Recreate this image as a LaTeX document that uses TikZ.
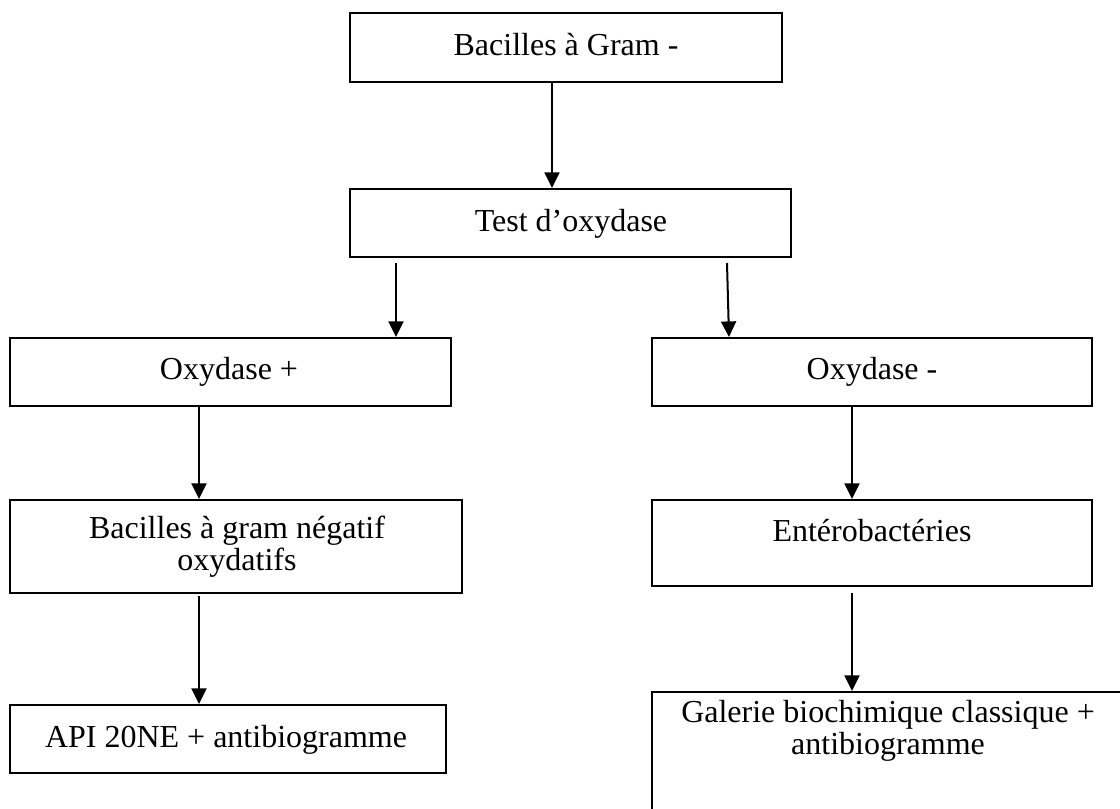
\documentclass[tikz,border=0pt]{standalone}
\usepackage{fontspec}
\setmainfont{Liberation Serif}
\usetikzlibrary{arrows.meta}

\tikzset{
  box/.style={draw, line width=1pt, inner sep=0pt, rectangle},
  lbl/.style={inner sep=0pt, align=center, font=\fontsize{16pt}{15.6pt}\selectfont},
  arr/.style={line width=1pt, -{Triangle[width=7.5pt,length=7.8pt]}},
}

% box from left/top/right/bottom in pixel units
\newcommand\flowbox[5]{%
  \node[box, minimum width={(#4-#2)*0.5pt}, minimum height={(#5-#3)*0.5pt}]
    (#1) at ({(#2+#4)/2},{(#3+#5)/2}) {};}

\begin{document}
\begin{tikzpicture}[x=0.5pt, y=-0.5pt]
  \useasboundingbox (0,0) rectangle (1120,809);
  \clip (0,0) rectangle (1120,809);

  % boxes
  \flowbox{gram}{350}{13}{782}{82}
  \flowbox{test}{350}{189}{791}{257}
  \flowbox{oxp}{10}{338}{451}{406}
  \flowbox{oxm}{652}{338}{1092}{406}
  \flowbox{bgn}{10}{500}{462}{593}
  \flowbox{ent}{652}{500}{1092}{586}
  \flowbox{api}{10}{705}{446}{773}
  \flowbox{gal}{652}{692}{1125}{860}

  % labels (multi-line labels are anchored on their last baseline)
  \node[lbl, anchor=base] (tgram) at (566,55) {Bacilles à Gram -};
  \node[lbl, anchor=base] (ttest) at (571,231) {Test d’oxydase};
  \node[lbl, anchor=base] (toxp) at (229,379) {Oxydase +};
  \node[lbl, anchor=base] (toxm) at (872,379) {Oxydase -};
  \node[lbl, anchor=base] (tbgn) at (237,570) {Bacilles à gram négatif\\oxydatifs};
  \node[lbl, anchor=base] (tent) at (872,541) {Entérobactéries};
  \node[lbl, anchor=base] (tapi) at (226,747) {API 20NE + antibiogramme};
  \node[lbl, anchor=base] (tgal) at (888,754) {Galerie biochimique classique +\\antibiogramme};

  % connectors
  \draw[arr] (gram.south -| 552,0) -- (test.north -| 552,0);
  \draw[arr] (test.south -| 396,0) ++(0,5) -- (oxp.north -| 396,0);
  \draw[arr] (test.south -| 727,0) ++(0,5) -- (oxm.north -| 729,0);
  \draw[arr] (oxp.south -| 199,0) -- (bgn.north -| 199,0);
  \draw[arr] (oxm.south -| 852,0) -- (ent.north -| 852,0);
  \draw[arr] (bgn.south -| 199,0) ++(0,2) -- (api.north -| 199,0);
  \draw[arr] (ent.south -| 852,0) ++(0,6) -- (gal.north -| 852,0);
\end{tikzpicture}
\end{document}
